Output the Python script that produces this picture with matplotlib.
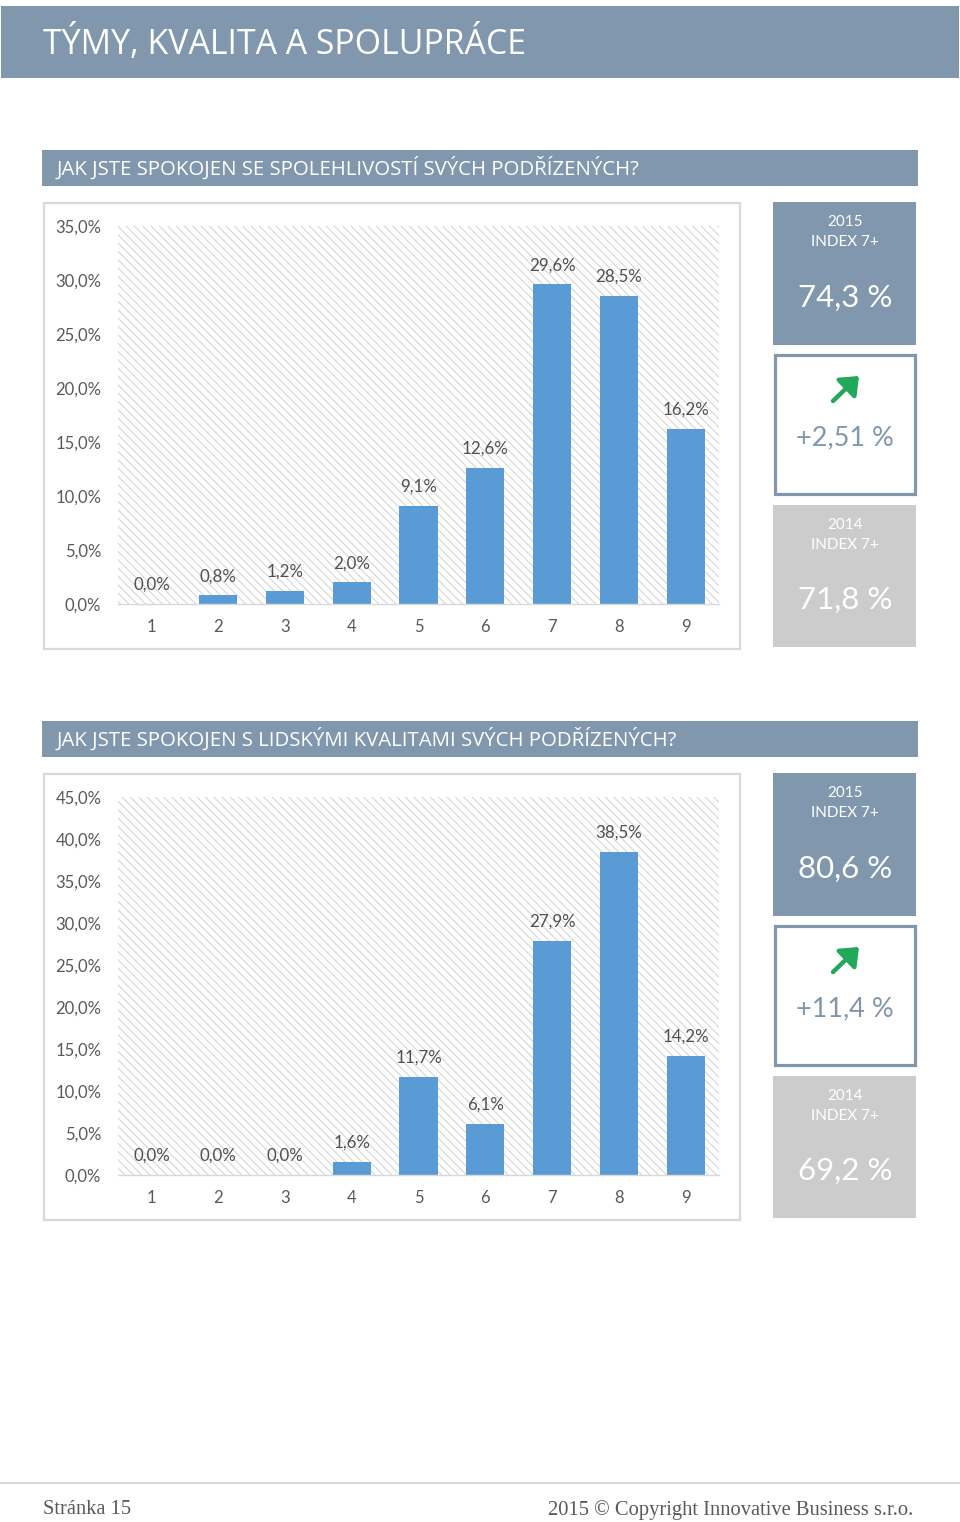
import numpy as np
import matplotlib
matplotlib.use("Agg")
import matplotlib.pyplot as plt
from matplotlib.patches import Rectangle, FancyArrowPatch

# ---------------- data ----------------
categories = [1, 2, 3, 4, 5, 6, 7, 8, 9]
q1_title = "JAK JSTE SPOKOJEN SE SPOLEHLIVOSTÍ SVÝCH PODŘÍZENÝCH?"
q1_values = [0.0, 0.8, 1.2, 2.0, 9.1, 12.6, 29.6, 28.5, 16.2]
q1_ymax = 35
q1_index_2015 = "74,3 %"
q1_change = "+2,51 %"
q1_index_2014 = "71,8 %"

q2_title = "JAK JSTE SPOKOJEN S LIDSKÝMI KVALITAMI SVÝCH PODŘÍZENÝCH?"
q2_values = [0.0, 0.0, 0.0, 1.6, 11.7, 6.1, 27.9, 38.5, 14.2]
q2_ymax = 45
q2_index_2015 = "80,6 %"
q2_change = "+11,4 %"
q2_index_2014 = "69,2 %"

page_title = "TÝMY, KVALITA A SPOLUPRÁCE"
footer_left = "Stránka 15"
footer_right = "2015 © Copyright Innovative Business s.r.o."

# ---------------- style ----------------
W, H = 960, 1522
BANNER = "#8097AD"
BAR = "#5B9BD5"
GREY_BOX = "#CCCCCC"
TICK = "#595959"
LABEL = "#505050"
HEAD_FONT = ["Open Sans", "DejaVu Sans"]
CHART_FONT = ["Lato", "DejaVu Sans"]
SERIF = ["Liberation Serif", "DejaVu Serif"]
plt.rcParams["hatch.linewidth"] = 0.8

fig = plt.figure(figsize=(W / 100, H / 100), dpi=100)
fig.patch.set_facecolor("white")


def fx(x):
    return x / W


def fy(y):
    return 1 - y / H


def frect(x0, y0, x1, y1, **kw):
    kw.setdefault("zorder", -1)
    r = Rectangle((fx(x0), fy(y1)), (x1 - x0) / W, (y1 - y0) / H,
                  transform=fig.transFigure, **kw)
    fig.add_artist(r)
    return r


def fmt(v):
    return f"{v:.1f}".replace(".", ",") + "%"


# page title banner
frect(1, 6, 959, 78, facecolor=BANNER, edgecolor="none")
fig.text(fx(43), fy(44), page_title, color="white", fontsize=24.4,
         family=HEAD_FONT, ha="left", va="center")


def section(dy, title, values, ymax, idx15, change, idx14):
    # header
    frect(42, 150 + dy, 918, 186 + dy, facecolor=BANNER, edgecolor="none")
    fig.text(fx(57), fy(168 + dy), title, color="white", fontsize=14.7,
             family=HEAD_FONT, ha="left", va="center")
    # chart frame
    frect(44, 203 + dy, 740, 649 + dy, facecolor="none",
          edgecolor="#D9D9D9", linewidth=1.6, zorder=2)
    # plot
    ax = fig.add_axes((fx(118), fy(604 + dy), (719 - 118) / W, (604 - 226) / H))
    ax.set_facecolor("white")
    ax.add_patch(Rectangle((0, 0), 1, 1, transform=ax.transAxes,
                           facecolor="white", edgecolor="#D6D6D6",
                           hatch="\\\\\\\\", linewidth=0, zorder=0.5))
    ax.bar(categories, values, width=0.57, color=BAR, zorder=3)
    ax.set_xlim(0.5, 9.5)
    ax.set_ylim(0, ymax)
    yt = np.arange(0, ymax + 0.1, 5)
    ax.set_yticks(yt)
    ax.set_yticklabels([fmt(v) for v in yt], family=CHART_FONT)
    ax.set_xticks(categories)
    ax.set_xticklabels([str(c) for c in categories], family=CHART_FONT)
    ax.tick_params(axis="y", length=0, labelsize=12, colors=TICK, pad=12)
    ax.tick_params(axis="x", length=0, labelsize=12, colors=TICK, pad=11)
    for s in ["top", "right", "left"]:
        ax.spines[s].set_visible(False)
    ax.spines["bottom"].set_color("#D9D9D9")
    ax.spines["bottom"].set_linewidth(1)
    ax.spines["bottom"].set_zorder(4)
    for c, v in zip(categories, values):
        ax.annotate(fmt(v), (c, v), xytext=(0, 8), textcoords="offset points",
                    ha="center", va="bottom", fontsize=12.2, color=LABEL,
                    family=CHART_FONT, zorder=5)

    # KPI boxes
    cx = fx(845)
    frect(773, 202 + dy, 916, 345 + dy, facecolor=BANNER, edgecolor="none")
    fig.text(cx, fy(222 + dy), "2015", color="white", fontsize=11,
             family=CHART_FONT, ha="center", va="center")
    fig.text(cx, fy(242 + dy), "INDEX 7+", color="white", fontsize=11,
             family=CHART_FONT, ha="center", va="center")
    fig.text(cx, fy(298 + dy), idx15, color="white", fontsize=22.5,
             family=CHART_FONT, ha="center", va="center")

    frect(774.5, 354.5 + dy, 914.5, 493.5 + dy, facecolor="white",
          edgecolor=BANNER, linewidth=2.3)
    arr = FancyArrowPatch((fx(833), fy(401 + dy)), (fx(859), fy(376 + dy)),
                          transform=fig.transFigure,
                          arrowstyle="-|>,head_length=0.55,head_width=0.45",
                          mutation_scale=18, color="#22A85A", linewidth=3.2,
                          shrinkA=0, shrinkB=0)
    fig.add_artist(arr)
    fig.text(cx, fy(438 + dy), change, color=BANNER, fontsize=19.5,
             family=CHART_FONT, ha="center", va="center")

    frect(773, 505 + dy, 916, 647 + dy, facecolor=GREY_BOX, edgecolor="none")
    fig.text(cx, fy(525 + dy), "2014", color="white", fontsize=11,
             family=CHART_FONT, ha="center", va="center")
    fig.text(cx, fy(545 + dy), "INDEX 7+", color="white", fontsize=11,
             family=CHART_FONT, ha="center", va="center")
    fig.text(cx, fy(600 + dy), idx14, color="white", fontsize=22.5,
             family=CHART_FONT, ha="center", va="center")


section(0, q1_title, q1_values, q1_ymax, q1_index_2015, q1_change, q1_index_2014)
section(571, q2_title, q2_values, q2_ymax, q2_index_2015, q2_change, q2_index_2014)

# footer
fig.add_artist(plt.Line2D([0, 1], [fy(1483), fy(1483)], transform=fig.transFigure,
                          color="#D9D9D9", linewidth=1.5))
fig.text(fx(43), fy(1510), footer_left, color=TICK, fontsize=14.8,
         family=SERIF, ha="left", va="center")
fig.text(fx(913), fy(1510), footer_right, color=TICK, fontsize=14.8,
         family=SERIF, ha="right", va="center")

fig.savefig("out.png", dpi=100, facecolor="white")
